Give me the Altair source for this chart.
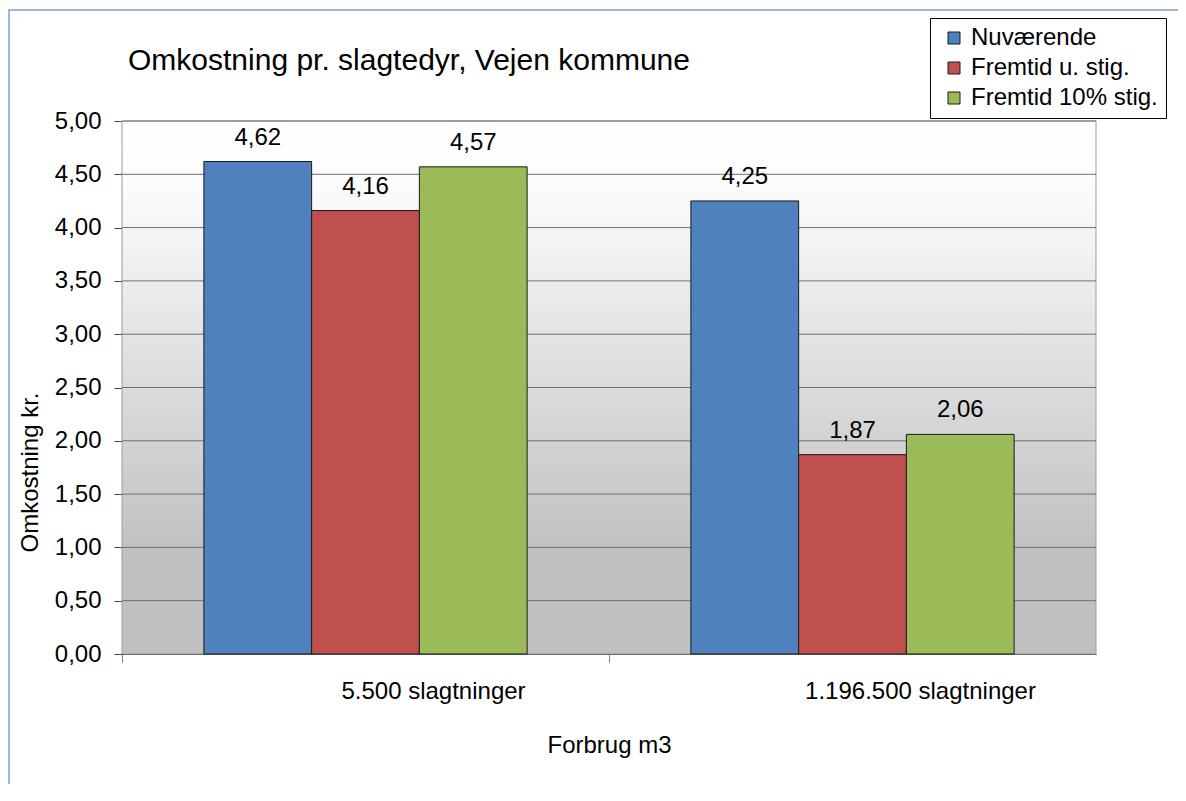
import altair as alt
import pandas as pd

categories = ["5.500 slagtninger", "1.196.500 slagtninger"]
series = ["Nuværende", "Fremtid u. stig.", "Fremtid 10% stig."]
values = {
    "Nuværende": [4.62, 4.25],
    "Fremtid u. stig.": [4.16, 1.87],
    "Fremtid 10% stig.": [4.57, 2.06],
}
colors = ["#4F81BD", "#C0504D", "#9BBB59"]
y_ticks = [0.0, 0.5, 1.0, 1.5, 2.0, 2.5, 3.0, 3.5, 4.0, 4.5, 5.0]

rows = []
for s in series:
    for c, v in zip(categories, values[s]):
        rows.append({"cat": c, "series": s, "value": v,
                     "label": f"{v:.2f}".replace(".", ",")})
df = pd.DataFrame(rows)
grid_df = pd.DataFrame({"value": y_ticks[1:]})
one = pd.DataFrame({"k": [0]})

W, H = 974, 533
FONT = "Liberation Sans"

x_enc = alt.X(
    "cat:N", sort=categories,
    scale=alt.Scale(paddingInner=0, paddingOuter=0),
    axis=alt.Axis(title="Forbrug m3", labelAngle=0, labelFontSize=24,
                  labelColor="black", titleFontSize=24, titleFontWeight="normal",
                  titleColor="black", titlePadding=30, labelPadding=17,
                  bandPosition=0, labelOffset=68, labelLimit=400, tickSize=8,
                  tickColor="#808080", domainColor="#404040", grid=False,
                  labelFont=FONT, titleFont=FONT),
)
y_scale = alt.Scale(domain=[0, 5], nice=False)
y_axis = alt.Axis(title="Omkostning kr.", values=y_ticks,
                  labelExpr="replace(format(datum.value, '.2f'), '.', ',')",
                  labelFontSize=24, labelColor="black", labelPadding=13,
                  tickSize=8, tickColor="#404040", domainColor="#404040",
                  grid=False, titleFontSize=24, titleFontWeight="normal",
                  titleColor="black", titleX=-80, titleY=351,
                  labelFont=FONT, titleFont=FONT)

bg = alt.Chart(one).mark_rect(
    fill=alt.LinearGradient(
        gradient="linear", x1=0, x2=0, y1=0, y2=1,
        stops=[alt.GradientStop(color="#ffffff", offset=0),
               alt.GradientStop(color="#fcfcfc", offset=0.12),
               alt.GradientStop(color="#c0c0c0", offset=0.82),
               alt.GradientStop(color="#c0c0c0", offset=1)]),
    stroke="#9a9a9a", strokeWidth=1,
).encode(x=alt.value(0), x2=alt.value(W), y=alt.value(0), y2=alt.value(H))

frame = alt.Chart(one).mark_rect(
    fillOpacity=0, stroke="#7aa0d8", strokeWidth=1.5,
).encode(x=alt.value(-113), x2=alt.value(W + 300),
         y=alt.value(-111), y2=alt.value(H + 400))

grid = alt.Chart(grid_df).mark_rule(color="#6e6e6e", strokeWidth=1).encode(
    y=alt.Y("value:Q", scale=y_scale, axis=y_axis)
)

base = alt.Chart(df).encode(
    x=x_enc,
    xOffset=alt.XOffset("series:N", sort=series,
                        scale=alt.Scale(paddingInner=0, paddingOuter=0.76)),
)

bars = base.mark_bar(stroke="#1a1a1a", strokeWidth=1).encode(
    y=alt.Y("value:Q", scale=y_scale, axis=y_axis),
    color=alt.Color(
        "series:N", sort=series,
        scale=alt.Scale(domain=series, range=colors),
        legend=alt.Legend(
            title=None, orient="none", legendX=808, legendY=-103,
            symbolType="square", symbolSize=144, symbolStrokeColor="#1a1a1a",
            symbolStrokeWidth=1, symbolOpacity=1, labelFontSize=24,
            labelColor="black", labelFont=FONT, labelLimit=300,
            rowPadding=6, padding=8, symbolOffset=4, labelOffset=5,
            strokeColor="black", fillColor="white",
        ),
    ),
)

labels = base.mark_text(
    baseline="alphabetic", dy=-17, fontSize=24, font=FONT, color="black"
).encode(y=alt.Y("value:Q", scale=y_scale, axis=y_axis), text="label:N")

chart = alt.layer(frame, bg, grid, bars, labels).properties(
    width=W, height=H,
    title=alt.TitleParams(
        "Omkostning pr. slagtedyr, Vejen kommune", anchor="start",
        frame="group", fontSize=30, fontWeight="normal", font=FONT,
        color="black", dx=6, offset=0, dy=67,
    ),
    autosize=alt.AutoSizeParams(type="none"),
    padding={"left": 114, "top": 113, "right": 82, "bottom": 130},
).configure(font=FONT).configure_view(stroke=None)

chart.save("out.html", embed_options={"renderer": "svg", "actions": False})
